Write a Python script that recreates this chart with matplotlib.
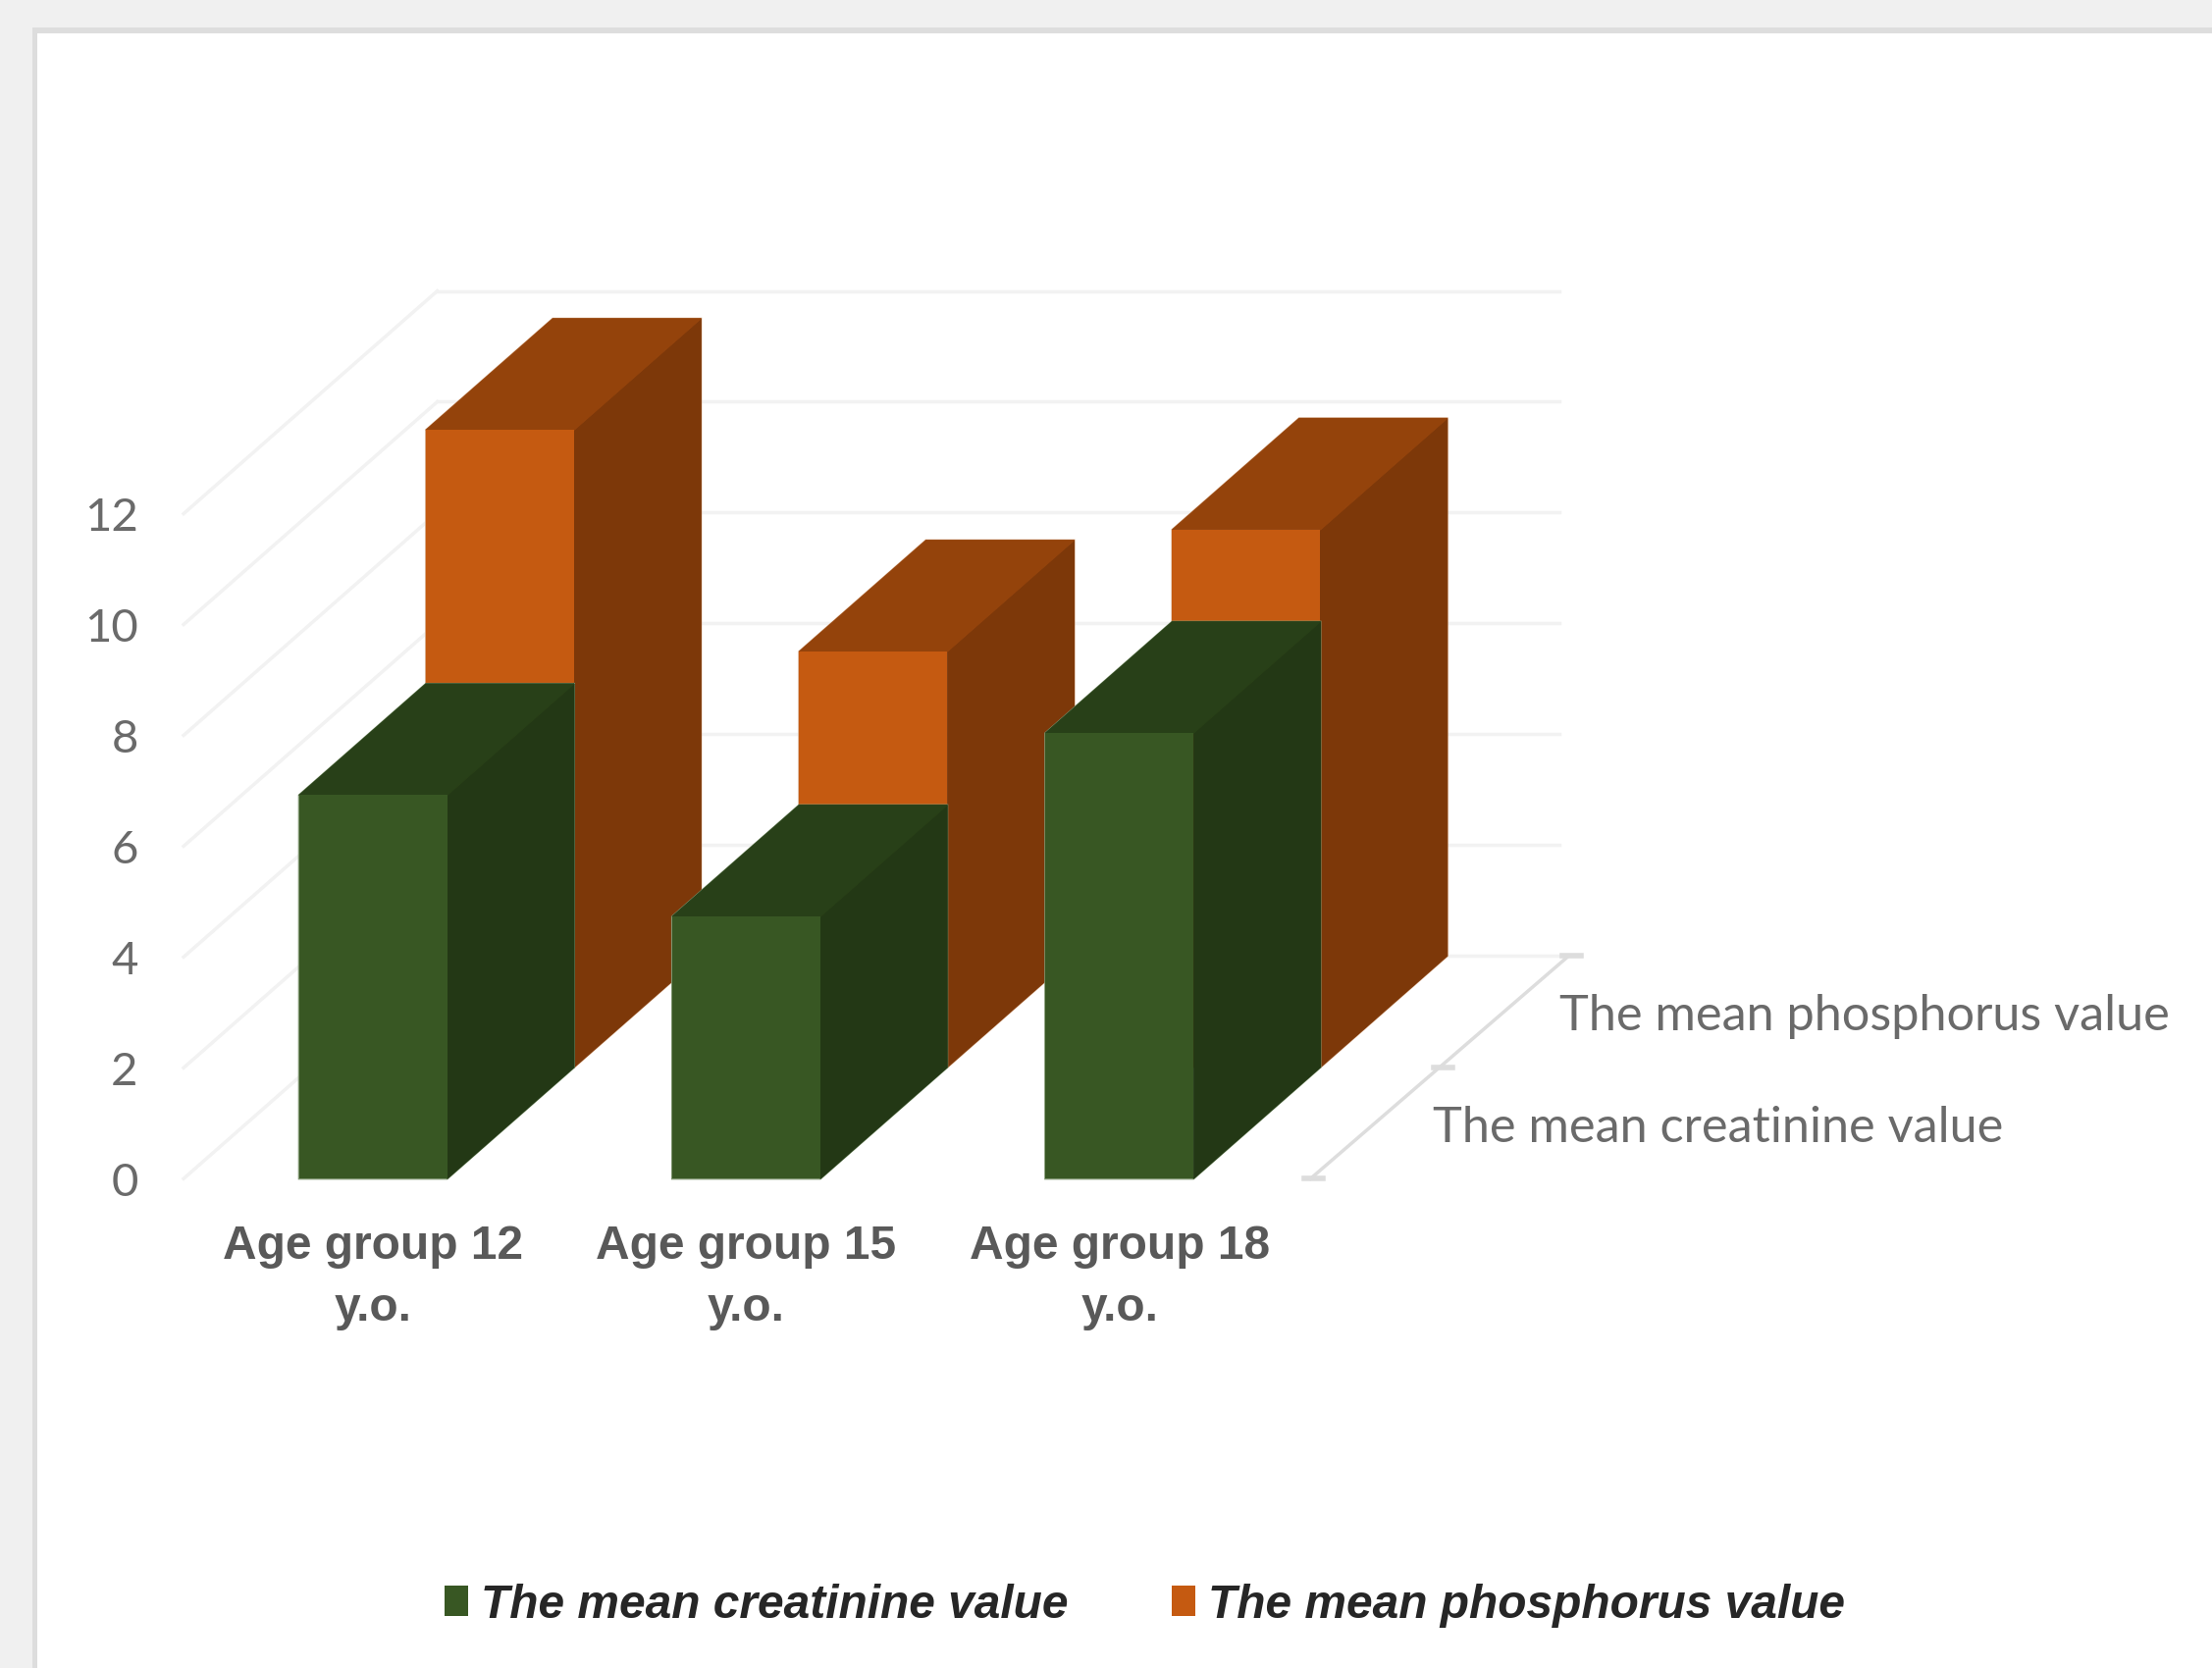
import matplotlib
matplotlib.use("Agg")
import matplotlib.pyplot as plt
from matplotlib.patches import Polygon, Rectangle

# data
categories = ["Age group 12\ny.o.", "Age group 15\ny.o.", "Age group 18\ny.o."]
series_names = ["The mean creatinine value", "The mean phosphorus value"]
creatinine = [6.92, 4.73, 8.04]
phosphorus = [11.5, 7.5, 9.7]
value_ticks = [0, 2, 4, 6, 8, 10, 12]

FRONT = ["#385723", "#C55A11"]
TOP = ["#284018", "#94430B"]
SIDE = ["#233815", "#7D3809"]
EDGE = ["#7F9570", "#D9AD8C"]
GRID = "#F2F2F2"
AXIS = "#DDDDDD"
TEXT = "#6A6A6A"

# oblique projection, one series step in depth moves the point by DX, DY
DX = 0.34
DY = 2.01
BAR_W = 0.397
LEFT_END = -0.508
LIGHT = ["Lato", "Liberation Sans"]
BOLD = ["Liberation Sans"]


def shift(x, y, depth):
    return x + DX * depth, y + DY * depth


fig = plt.figure(figsize=(22.54, 17), dpi=100, facecolor="#F0F0F0")

# the white page with its border
fig.add_artist(Rectangle((33 / 2254, 0), 2221 / 2254, 1 - 28 / 1700,
                         transform=fig.transFigure, facecolor="white",
                         edgecolor="none", zorder=-3))
fig.add_artist(Rectangle((33 / 2254, 0), 5 / 2254, 1 - 28 / 1700,
                         transform=fig.transFigure, facecolor=AXIS,
                         edgecolor="none", zorder=-2))
fig.add_artist(Rectangle((33 / 2254, 1 - 34 / 1700), 2221 / 2254, 6 / 1700,
                         transform=fig.transFigure, facecolor=AXIS,
                         edgecolor="none", zorder=-2))

ax = fig.add_axes([0, 0, 1, 1])
ax.set_xlim(-1, 4.928)
ax.set_ylim(-8.83, 21.27)
ax.axis("off")

# walls: lines on the left side and on the back
back_x = LEFT_END + 2 * DX
for v in value_ticks:
    ax.plot([LEFT_END, back_x], [v, v + 2 * DY], color=GRID, lw=2.5, zorder=1)
    ax.plot([back_x, 3.18], [v + 2 * DY, v + 2 * DY], color=GRID, lw=2.5, zorder=1)
    ax.text(-0.63, v - 0.08, str(v), ha="right", va="center", fontsize=34,
            color=TEXT, family=LIGHT)

# depth axis on the right
ax.plot([2.512, 3.204], [0, 2 * DY], color=AXIS, lw=2.5, zorder=1)
for d in range(3):
    ax.plot([2.496 + 0.346 * d, 2.546 + 0.346 * d],
            [DY * d, DY * d], color=AXIS, lw=4, zorder=1)

# back series first so the front one covers it
handles = [None, None]
for depth, values in reversed(list(enumerate([creatinine, phosphorus]))):
    z = 5 - depth
    centers = list(range(len(values)))
    for c, v in zip(centers, values):
        x0 = c - BAR_W / 2 + DX * depth
        x1 = x0 + BAR_W
        y0 = DY * depth
        top_pts = [(x0, v + y0), (x1, v + y0), shift(x1, v + y0, 1), shift(x0, v + y0, 1)]
        side_pts = [(x1, y0), shift(x1, y0, 1), shift(x1, v + y0, 1), (x1, v + y0)]
        outline = [(x0, y0), (x1, y0), shift(x1, y0, 1), shift(x1, v + y0, 1),
                   shift(x0, v + y0, 1), (x0, v + y0)]
        ax.add_patch(Polygon(outline, closed=True, facecolor="none",
                             edgecolor=EDGE[depth], lw=1.5, zorder=z))
        ax.add_patch(Polygon(side_pts, closed=True, facecolor=SIDE[depth],
                             edgecolor=SIDE[depth], lw=0.8, zorder=z))
        ax.add_patch(Polygon(top_pts, closed=True, facecolor=TOP[depth],
                             edgecolor=TOP[depth], lw=0.8, zorder=z))
    handles[depth] = ax.bar([c + DX * depth for c in centers], values, width=BAR_W,
                            bottom=DY * depth, color=FRONT[depth], zorder=z,
                            label=series_names[depth])

# category labels under the front bars
for c, label in enumerate(categories):
    ax.text(c, -1.79, label, ha="center", va="center", fontsize=34.5,
            fontweight="bold", color="#595959", family=BOLD, linespacing=1.52)

# series names next to the depth axis
ax.text(3.18, 2 * DY - 1.1, series_names[1], ha="left", va="center",
        fontsize=36.4, color=TEXT, family=LIGHT)
ax.text(2.84, DY - 1.1, series_names[0], ha="left", va="center",
        fontsize=36.4, color=TEXT, family=LIGHT)

ax.legend(handles=handles, loc="center", bbox_to_anchor=(0.5175, 0.0375), ncol=2,
          frameon=False, handlelength=0.5, handleheight=0.62, handletextpad=0.27,
          columnspacing=2.2,
          prop={"family": BOLD, "weight": "bold", "style": "italic", "size": 34.5},
          labelcolor="#262626")

fig.savefig("out.png", dpi=100, facecolor=fig.get_facecolor())
